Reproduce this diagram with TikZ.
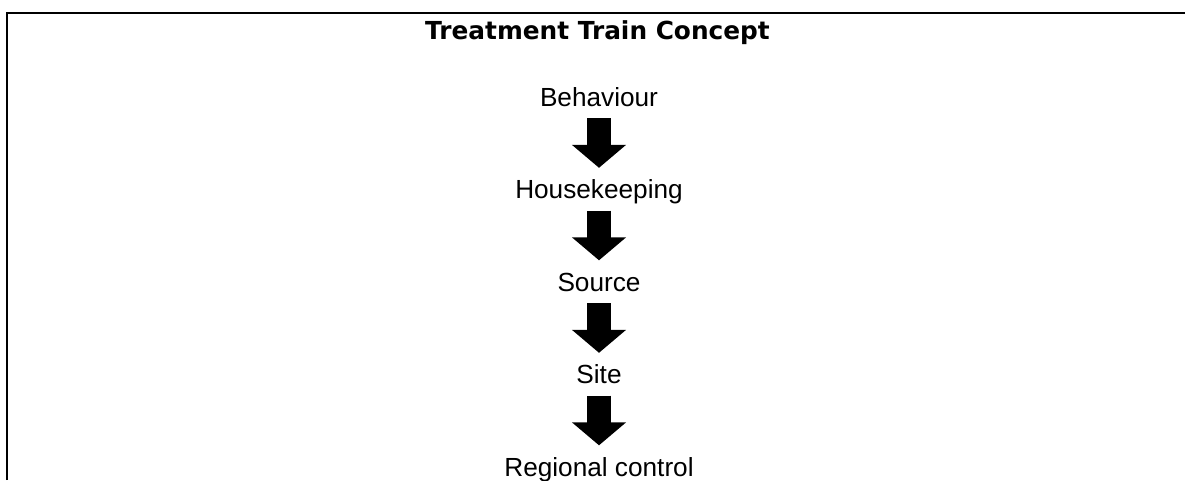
\documentclass[tikz,border=0pt]{standalone}
\usepackage{fontspec}
\setmainfont{Liberation Sans}
\newfontfamily\titlefont{DejaVu Sans}
\usetikzlibrary{arrows.meta}
\tikzset{
  frameline/.style={line width=2.5pt, line cap=butt},
  titletext/.style={anchor=base, inner sep=0pt, font=\titlefont\bfseries\fontsize{24.8pt}{28pt}\selectfont},
  steptext/.style={anchor=base, inner sep=0pt, text height=19pt, text depth=6pt, font=\fontsize{26.2pt}{30pt}\selectfont},
  blockarrow/.style={line width=24pt, line cap=butt, shorten <=6pt, shorten >=11.5pt,
    -{Triangle[width=53pt, length=23pt]}}
}
\begin{document}
\begin{tikzpicture}[x=1pt,y=1pt]
\useasboundingbox (0,0) rectangle (1185,-480);
\draw[frameline] (7,-480) -- (7,-13) -- (1185,-13);
\node[titletext] (title) at (597.5,-39.5) {Treatment Train Concept};
\node[steptext] (s1) at (599,-106) {Behaviour};
\node[steptext] (s2) at (599,-198.5) {Housekeeping};
\node[steptext] (s3) at (599,-291) {Source};
\node[steptext] (s4) at (599,-383.5) {Site};
\node[steptext] (s5) at (599,-476) {Regional control};
\draw[blockarrow] (s1.south) -- (s2.north);
\draw[blockarrow] (s2.south) -- (s3.north);
\draw[blockarrow] (s3.south) -- (s4.north);
\draw[blockarrow] (s4.south) -- (s5.north);
\end{tikzpicture}
\end{document}
